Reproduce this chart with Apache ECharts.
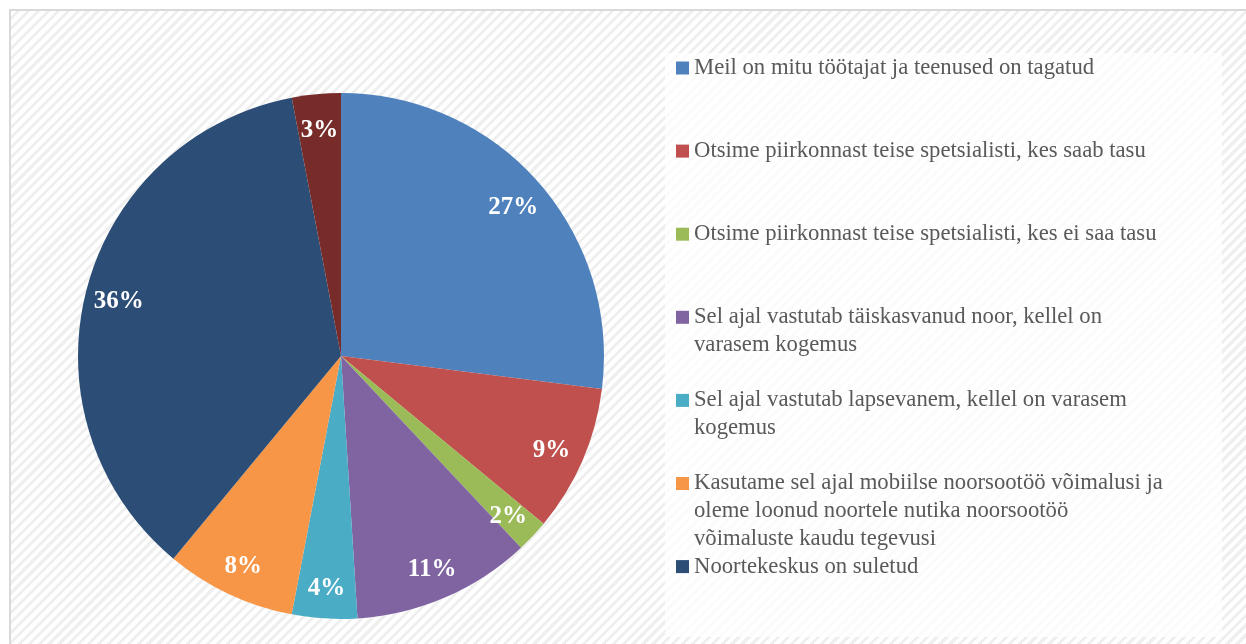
<!DOCTYPE html>
<html>
<head>
<meta charset="utf-8">
<script src="https://cdn.jsdelivr.net/npm/echarts@6/dist/echarts.min.js"></script>
<style>
  html, body { margin: 0; padding: 0; background: #fff; overflow: hidden; }
  #bg {
    position: absolute; left: 9px; top: 9px; right: -30px; bottom: -30px;
    border-left: 2px solid #d9d9d9; border-top: 2px solid #d9d9d9;
    background: repeating-linear-gradient(135deg, #ffffff 0px, #ffffff 4px, #efefef 4px, #efefef 7px);
  }
  #main { position: absolute; left: 0; top: 0; width: 1246px; height: 644px; }
</style>
</head>
<body>
<div id="bg"></div>
<div id="main"></div>
<script>
// legend lines as they wrap in the picture
var legendLines = [
  ['Meil on mitu töötajat ja teenused on tagatud'],
  ['Otsime piirkonnast teise spetsialisti, kes saab tasu'],
  ['Otsime piirkonnast teise spetsialisti, kes ei saa tasu'],
  ['Sel ajal vastutab täiskasvanud noor, kellel on', 'varasem kogemus'],
  ['Sel ajal vastutab lapsevanem, kellel on varasem', 'kogemus'],
  ['Kasutame sel ajal mobiilse noorsootöö võimalusi ja', 'oleme loonud noortele nutika noorsootöö', 'võimaluste kaudu tegevusi'],
  ['Noortekeskus on suletud']
];
var categories = legendLines.map(function (l) { return l.join(' '); }).concat(['Muu']);
var values = [27, 9, 2, 11, 4, 8, 36, 3];
var colors = ['#4F81BD', '#C0504D', '#9BBB59', '#8064A2', '#4BACC6', '#F79646', '#2C4D75', '#772C2A'];

var font = 'Liberation Serif';
var lh = 27.7;

var data = categories.map(function (c, i) {
  return { name: c, value: values[i], itemStyle: { color: colors[i] } };
});

// one legend per item so first lines sit on a fixed 83px step
var legends = legendLines.map(function (lines, i) {
  var center = 68 + i * 83.1;
  var n = lines.length;
  var pad = new Array(n).join('\n'); // keeps icon on first line
  return {
    data: [categories[i]],
    orient: 'vertical',
    left: 676,
    top: center - (2 * n - 1) * lh / 2,
    padding: 0,
    icon: 'rect',
    itemWidth: 13,
    itemHeight: 13,
    selectedMode: false,
    formatter: function () { return pad + lines.join('\n'); },
    textStyle: { fontFamily: font, fontSize: 22.7, color: '#595959', lineHeight: lh }
  };
});

var chart = echarts.init(document.getElementById('main'));
chart.setOption({
  backgroundColor: 'transparent',
  animation: false,
  graphic: [{
    type: 'rect', z: -1,
    shape: { x: 665, y: 53, width: 557, height: 584 },
    style: { fill: 'rgba(255,255,255,0.75)' }
  }],
  legend: legends,
  series: [{
    type: 'pie',
    center: [341, 356],
    radius: 263,
    startAngle: 90,
    label: { show: false },
    labelLine: { show: false },
    data: data
  }, {
    type: 'pie',
    center: [341, 356],
    radius: [190, 263],
    startAngle: 90,
    silent: true,
    itemStyle: { color: 'transparent' },
    label: {
      show: true,
      position: 'inside',
      offset: [0, 3],
      formatter: function (p) { return p.value + '%'; },
      color: '#fff',
      fontFamily: font,
      fontWeight: 'bold',
      fontSize: 25
    },
    labelLine: { show: false },
    data: values.map(function (v, i) { return { name: categories[i] + ' ', value: v }; })
  }]
});
</script>
</body>
</html>
